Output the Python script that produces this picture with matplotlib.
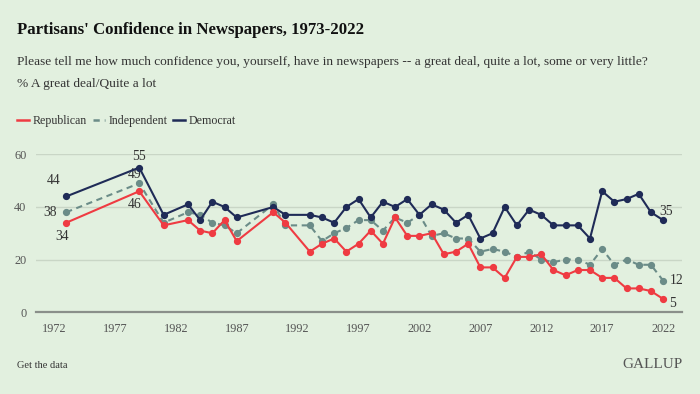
import matplotlib
matplotlib.use("Agg")
import matplotlib.pyplot as plt
from matplotlib.lines import Line2D

plt.rcParams["font.family"] = ["Liberation Serif", "DejaVu Serif"]

# Survey years and % "A great deal/Quite a lot"
years = [1973, 1979, 1981, 1983, 1984, 1985, 1986, 1987, 1990, 1991,
         1993, 1994, 1995, 1996, 1997, 1998, 1999, 2000, 2001, 2002,
         2003, 2004, 2005, 2006, 2007, 2008, 2009, 2010, 2011, 2012,
         2013, 2014, 2015, 2016, 2017, 2018, 2019, 2020, 2021, 2022]

republican = [34, 46, 33, 35, 31, 30, 35, 27, 38, 34,
              23, 26, 28, 23, 26, 31, 26, 36, 29, 29,
              30, 22, 23, 26, 17, 17, 13, 21, 21, 22,
              16, 14, 16, 16, 13, 13, 9, 9, 8, 5]

independent = [38, 49, 34, 38, 37, 34, 33, 30, 41, 33,
               33, 27, 30, 32, 35, 35, 31, 36, 34, 37,
               29, 30, 28, 28, 23, 24, 23, 21, 23, 20,
               19, 20, 20, 18, 24, 18, 20, 18, 18, 12]

democrat = [44, 55, 37, 41, 35, 42, 40, 36, 40, 37,
            37, 36, 34, 40, 43, 36, 42, 40, 43, 37,
            41, 39, 34, 37, 28, 30, 40, 33, 39, 37,
            33, 33, 33, 28, 46, 42, 43, 45, 38, 35]

x_ticks = [1972, 1977, 1982, 1987, 1992, 1997, 2002, 2007, 2012, 2017, 2022]
y_ticks = [0, 20, 40, 60]

BG = "#e2f0df"
RED = "#ef3b42"
GREY = "#6b8c88"
NAVY = "#1f2b57"
TEXT = "#333333"
TICK = "#555555"

fig = plt.figure(figsize=(7.0, 3.94), dpi=100, facecolor=BG)
ax = fig.add_axes([0.0514, 0.208, 0.923, 0.400], facecolor=BG)

ax.plot(years, independent, color=GREY, lw=1.5, ls=(0, (3, 2.2)), marker="o",
        ms=4.2, mec=GREY, mfc=GREY, zorder=3)
ax.plot(years, democrat, color=NAVY, lw=1.5, marker="o", ms=4.2, zorder=4)
ax.plot(years, republican, color=RED, lw=1.5, marker="o", ms=4.2, zorder=5)

ax.set_xlim(1970.52, 2023.56)
ax.set_ylim(0, 60)
ax.set_xticks(x_ticks)
ax.set_yticks(y_ticks)
ax.tick_params(axis="both", length=0, labelsize=8.8, colors=TICK)
ax.tick_params(axis="x", pad=8)
ax.tick_params(axis="y", pad=7)
ax.yaxis.grid(True, color="#c9d6c6", lw=1)
ax.set_axisbelow(True)
for side in ["top", "right", "left"]:
    ax.spines[side].set_visible(False)
ax.spines["bottom"].set_color("#8a8f8a")
ax.spines["bottom"].set_linewidth(1.6)

# value labels at the first two and last points
lab = dict(fontsize=9.8, color=TEXT)
ax.annotate(str(democrat[0]), (years[0], democrat[0]), xytext=(-4, 7),
            textcoords="offset points", ha="right", va="bottom", **lab)
ax.annotate(str(independent[0]), (years[0], independent[0]), xytext=(-7, 0),
            textcoords="offset points", ha="right", va="center", **lab)
ax.annotate(str(republican[0]), (years[0], republican[0]), xytext=(-3, -5),
            textcoords="offset points", ha="center", va="top", **lab)
ax.annotate(str(democrat[1]), (years[1], democrat[1]), xytext=(0, 3),
            textcoords="offset points", ha="center", va="bottom", **lab)
ax.annotate(str(independent[1]), (years[1], independent[1]), xytext=(-3, 2),
            textcoords="offset points", ha="center", va="bottom", **lab)
ax.annotate(str(republican[1]), (years[1], republican[1]), xytext=(-3, -5),
            textcoords="offset points", ha="center", va="top", **lab)
ax.annotate(str(democrat[-1]), (years[-1], democrat[-1]), xytext=(-3, 6),
            textcoords="offset points", ha="left", va="center", **lab)
ax.annotate(str(independent[-1]), (years[-1], independent[-1]), xytext=(5, 0),
            textcoords="offset points", ha="left", va="center", **lab)
ax.annotate(str(republican[-1]), (years[-1], republican[-1]), xytext=(4, -3),
            textcoords="offset points", ha="left", va="center", **lab)

# header text
fig.text(17 / 700, 1 - 30 / 394, "Partisans' Confidence in Newspapers, 1973-2022",
         fontsize=12.1, fontweight="bold", color="#111111", va="center", ha="left")
fig.text(17 / 700, 1 - 62 / 394,
         "Please tell me how much confidence you, yourself, have in newspapers -- "
         "a great deal, quite a lot, some or very little?",
         fontsize=9.6, color=TEXT, va="center", ha="left")
fig.text(17 / 700, 1 - 84 / 394, "% A great deal/Quite a lot",
         fontsize=9.6, color=TEXT, va="center", ha="left")

handles = [
    Line2D([], [], color=RED, lw=1.8),
    Line2D([], [], color=GREY, lw=1.8, ls=(0, (2.5, 2))),
    Line2D([], [], color=NAVY, lw=1.8),
]
fig.legend(handles, ["Republican", "Independent", "Democrat"], loc="center left",
           bbox_to_anchor=(17 / 700, 1 - 121 / 394), ncol=3, frameon=False,
           borderpad=0, borderaxespad=0,
           fontsize=8.6, handlelength=1.0, handletextpad=0.3, columnspacing=0.5,
           labelcolor=TEXT)

# footer
fig.text(17 / 700, 1 - 365 / 394, "Get the data", fontsize=7.5, color=TEXT,
         va="center", ha="left")
fig.text(683 / 700, 1 - 364 / 394, "GALLUP", fontsize=11, color="#555555",
         va="center", ha="right")

fig.savefig("out.png", dpi=100, facecolor=BG)
